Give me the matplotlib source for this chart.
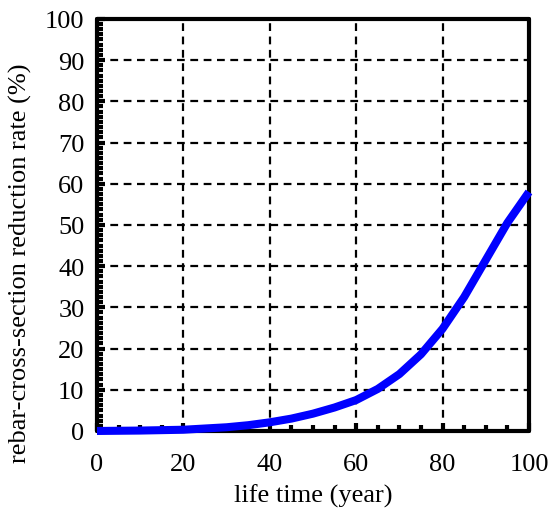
import matplotlib.pyplot as plt
from matplotlib.ticker import MultipleLocator

plt.rcParams['font.family'] = ['Liberation Serif', 'DejaVu Serif']

# Data
life_time = [0, 10, 20, 25, 30, 35, 40, 45, 50, 55, 60, 65, 70, 75, 80, 85, 90, 95, 100]
reduction_rate = [0, 0.1, 0.3, 0.6, 0.9, 1.4, 2.1, 3.0, 4.2, 5.7, 7.5, 10.2, 13.8, 18.6, 24.8,
                  32.5, 41.5, 50.5, 58]

x_ticks = [0, 20, 40, 60, 80, 100]
y_ticks = [0, 10, 20, 30, 40, 50, 60, 70, 80, 90, 100]

fig = plt.figure(figsize=(5.51, 5.10), dpi=100)
ax = fig.add_axes([0.176, 0.153, 0.784, 0.808])

ax.plot(life_time, reduction_rate, color='#0000ff', linewidth=5.8,
        solid_capstyle='butt', solid_joinstyle='round', zorder=3, clip_on=False)

ax.set_xlim(0, 100)
ax.set_ylim(0, 100)
ax.set_xticks(x_ticks)
ax.set_yticks(y_ticks)
ax.xaxis.set_minor_locator(MultipleLocator(5))
ax.yaxis.set_minor_locator(MultipleLocator(1.25))

ax.grid(True, which='major', color='black', linestyle=(0, (3.5, 2.5)), linewidth=1.6)
ax.set_axisbelow(True)

for s in ax.spines.values():
    s.set_linewidth(3)
    s.set_capstyle('round')

ax.tick_params(which='major', direction='in', length=6, width=3,
               labelsize=19, top=False, right=False)
ax.tick_params(axis='x', which='major', pad=16)
ax.tick_params(axis='y', which='major', pad=9)
ax.tick_params(which='minor', direction='in', length=4, width=3,
               top=False, right=False)

ax.set_xlabel('life time (year)', fontsize=19, labelpad=6)
ax.set_ylabel('rebar-cross-section reduction rate (%)', fontsize=19)
ax.yaxis.set_label_coords(-0.15, 0.41)

fig.savefig('out.png', dpi=100)
